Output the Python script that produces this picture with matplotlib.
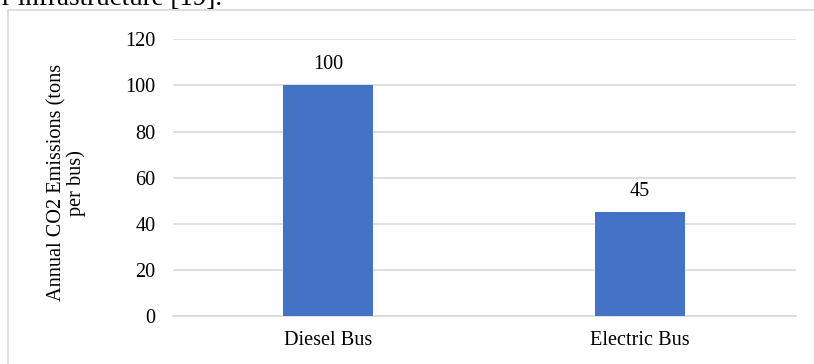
import matplotlib.pyplot as plt
import matplotlib.patches as patches

categories = ["Diesel Bus", "Electric Bus"]
emissions = [100, 45]
yticks = [0, 20, 40, 60, 80, 100, 120]

plt.rcParams['font.family'] = ['Liberation Serif', 'DejaVu Serif']

fig = plt.figure(figsize=(8.14, 3.64), dpi=100)
W, H = 814, 364
fs = 14.6

# leftover text of the page above the chart
fig.text(2 / W, 1 - 5 / H, "r infrastructure [19].", fontsize=19.5,
         va='baseline', ha='left', color='black')

# chart frame
fig.patches.append(patches.Rectangle((7.5 / W, -0.05), 1.0, 1 - 10 / H + 0.05,
                                     transform=fig.transFigure, fill=False,
                                     edgecolor='#d9d9d9', linewidth=1.2))

ax = fig.add_axes([172.7 / W, 48 / H, (795.7 - 172.7) / W, (316 - 39.3) / H])
x = range(len(categories))
bars = ax.bar(x, emissions, width=0.289, color='#4472c4', zorder=3)
for b, v in zip(bars, emissions):
    ax.text(b.get_x() + b.get_width() / 2, v + 5, str(v), ha='center',
            va='bottom', fontsize=fs)

ax.set_xlim(-0.5, 1.5)
ax.set_ylim(0, 120)
ax.set_yticks(yticks)
ax.set_xticks(list(x))
ax.set_xticklabels(categories, fontsize=fs)
ax.tick_params(axis='y', labelsize=fs, length=0, pad=12.5)
ax.tick_params(axis='x', length=0, pad=11)
ax.grid(axis='y', color='#d9d9d9', linewidth=1.2, zorder=0)
for s in ['top', 'right', 'left']:
    ax.spines[s].set_visible(False)
ax.spines['bottom'].set_color('#d9d9d9')
ax.spines['bottom'].set_linewidth(1.2)

ax.set_ylabel("Annual CO2 Emissions (tons\nper bus)", fontsize=fs,
              linespacing=1.0)
ax.yaxis.set_label_coords(-0.1385, 0.482)

fig.savefig("out.png", dpi=100)
